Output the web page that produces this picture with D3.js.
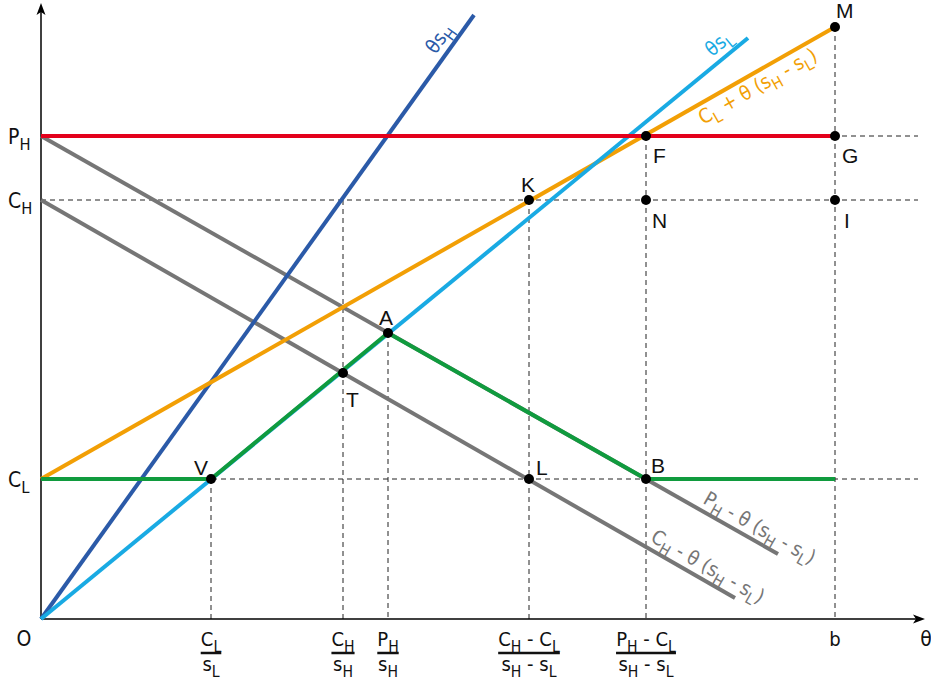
<!DOCTYPE html>
<html><head><meta charset="utf-8">
<script src="https://cdn.jsdelivr.net/npm/d3@7"></script>
<style>
html,body{margin:0;padding:0;background:#fff;}
svg{display:block;}
text{font-family:"Liberation Sans Narrow","DejaVu Sans Condensed","Liberation Sans",sans-serif;}
text.pt{font-family:"Liberation Sans",Arial,sans-serif;}
</style></head>
<body>
<script>
// ---------- data ----------
const yTickValues = [1.40, 4.19, 4.83];
const yTickLabels = ["C_L", "C_H", "P_H"];
const xTickValues = [1.70, 3.02, 3.47, 4.88, 6.05, 7.94];
const xTickNumerators = ["C_L", "C_H", "P_H", "C_H - C_L", "P_H - C_L", "b"];
const xTickDenominators = ["s_L", "s_H", "s_H", "s_H - s_L", "s_H - s_L", ""];
const dashTops = [1.40, 4.19, 2.86, 4.19, 4.83, 5.92];

const pointNames = ["V", "T", "A", "K", "L", "F", "N", "B", "M", "G", "I"];
const pointX = [1.70, 3.02, 3.47, 4.88, 4.88, 6.05, 6.05, 6.05, 7.94, 7.94, 7.94];
const pointY = [1.40, 2.46, 2.86, 4.19, 1.40, 4.83, 4.19, 1.40, 5.92, 4.83, 4.19];

const lineThetaSH = [[0, 0], [4.33, 6.04]];
const lineThetaSL = [[0, 0], [7.07, 5.81]];
const lineCost = [[0, 1.40], [7.94, 5.92]];
const linePH = [[0, 4.83], [7.94, 4.83]];
const lineGreyP = [[0, 4.83], [7.37, 0.65]];
const lineGreyC = [[0, 4.19], [6.94, 0.21]];
const lineGreen = [[0, 1.40], [1.70, 1.40], [3.47, 2.86], [6.05, 1.40], [7.94, 1.40]];

// ---------- layout ----------
const W = 931, H = 681;
const x = d3.scaleLinear().domain([0, 8.84]).range([41, 925]);
const y = d3.scaleLinear().domain([0, 6.16]).range([619, 3]);
const FS = 20;

const svg = d3.select("body").append("svg").attr("width", W).attr("height", H);

function rich(sel, str, size) {
  const parts = str.split(/(_.)/).filter(p => p.length);
  let shifted = false;
  parts.forEach(p => {
    if (p[0] === "_") {
      sel.append("tspan").attr("font-size", size * 0.78).attr("dy", shifted ? 0 : size * 0.28).text(p[1]);
      shifted = true;
    } else {
      sel.append("tspan").attr("font-size", size).attr("dy", shifted ? -size * 0.28 : 0).text(p);
      shifted = false;
    }
  });
  return sel;
}

const line = d3.line().x(d => x(d[0])).y(d => y(d[1]));

// dashed guides
const dash = svg.append("g").attr("stroke", "#222").attr("stroke-width", 1).attr("stroke-dasharray", "5,4").attr("fill", "none");
yTickValues.forEach(v => {
  dash.append("line").attr("x1", x(0)).attr("x2", x(8.77)).attr("y1", y(v)).attr("y2", y(v));
});
xTickValues.forEach((v, i) => {
  dash.append("line").attr("x1", x(v)).attr("x2", x(v)).attr("y1", y(dashTops[i])).attr("y2", y(0));
});

// axes
const ax = svg.append("g");
ax.append("line").attr("x1", x(0)).attr("x2", x(8.84) - 6).attr("y1", y(0)).attr("y2", y(0)).attr("stroke", "#000").attr("stroke-width", 1.5);
ax.append("line").attr("x1", x(0)).attr("x2", x(0)).attr("y1", y(0)).attr("y2", y(6.16) + 6).attr("stroke", "#000").attr("stroke-width", 1.5);
ax.append("path").attr("d", `M${x(8.84)},${y(0)} L${x(8.84) - 12},${y(0) - 4.5} L${x(8.84) - 9},${y(0)} L${x(8.84) - 12},${y(0) + 4.5} Z`).attr("fill", "#000");
ax.append("path").attr("d", `M${x(0)},${y(6.16)} L${x(0) - 4.5},${y(6.16) + 12} L${x(0)},${y(6.16) + 9} L${x(0) + 4.5},${y(6.16) + 12} Z`).attr("fill", "#000");

// coloured lines
const lines = [
  [lineGreyC, "#767676"],
  [lineGreyP, "#767676"],
  [lineThetaSH, "#2b5aa8"],
  [lineCost, "#f29f05"],
  [lineThetaSL, "#19aae3"],
  [linePH, "#e3001b"],
  [lineGreen, "#109b3e"]
];
lines.forEach(([d, c]) => {
  svg.append("path").attr("d", line(d)).attr("fill", "none").attr("stroke", c).attr("stroke-width", 4).attr("stroke-linejoin", "round");
});

// points
svg.append("g").selectAll("circle").data(pointNames).join("circle")
  .attr("cx", (d, i) => x(pointX[i])).attr("cy", (d, i) => y(pointY[i])).attr("r", 5).attr("fill", "#000");

const pointLabelOffsets = {
  V: [-3, -4, "end"], T: [3, 34, "start"], A: [-2, -8, "middle"], K: [-1, -8, "middle"],
  L: [7, -4, "start"], F: [7, 27, "start"], N: [6, 28, "start"], B: [5, -6, "start"],
  M: [1, -9, "start"], G: [7, 27, "start"], I: [9, 28, "start"]
};
svg.append("g").selectAll("text").data(pointNames).join("text")
  .attr("class", "pt")
  .attr("x", (d, i) => x(pointX[i]) + pointLabelOffsets[d][0])
  .attr("y", (d, i) => y(pointY[i]) + pointLabelOffsets[d][1])
  .attr("text-anchor", d => pointLabelOffsets[d][2])
  .attr("font-size", 21).attr("fill", "#111")
  .text(d => d);

// y tick labels
yTickValues.forEach((v, i) => {
  const t = svg.append("text").attr("x", 8).attr("y", y(v) + 8).attr("fill", "#111");
  rich(t, yTickLabels[i], 21);
});

// x tick labels (fractions)
xTickValues.forEach((v, i) => {
  const g = svg.append("g");
  const num = g.append("text").attr("x", x(v)).attr("y", 646).attr("text-anchor", "middle").attr("fill", "#111");
  rich(num, xTickNumerators[i], FS);
  if (xTickDenominators[i]) {
    const den = g.append("text").attr("x", x(v)).attr("y", 671).attr("text-anchor", "middle").attr("fill", "#111");
    rich(den, xTickDenominators[i], FS);
    const w = Math.max(num.node().getBBox().width, den.node().getBBox().width);
    g.append("line").attr("x1", x(v) - w / 2).attr("x2", x(v) + w / 2).attr("y1", 653).attr("y2", 653).attr("stroke", "#111").attr("stroke-width", 2.5);
  }
});
svg.append("text").attr("x", 24).attr("y", 646).attr("text-anchor", "middle").attr("font-size", 21).attr("fill", "#111").text("O");
svg.append("text").attr("x", 926).attr("y", 646).attr("text-anchor", "middle").attr("font-size", 21).attr("fill", "#111").text("θ");

// rotated line labels
function lineLabel(seg, tx, str, color, off) {
  const [[x0, y0], [x1, y1]] = seg;
  const ty = y0 + (y1 - y0) * (tx - x0) / (x1 - x0);
  const ang = Math.atan2(y(y1) - y(y0), x(x1) - x(x0)) * 180 / Math.PI;
  const t = svg.append("text")
    .attr("transform", `translate(${x(tx)},${y(ty)}) rotate(${ang}) translate(0,${off})`)
    .attr("text-anchor", "middle").attr("fill", color);
  rich(t, str, FS);
}
lineLabel(lineThetaSH, 4.10, "θs_H", "#2b5aa8", -8);
lineLabel(lineThetaSL, 6.87, "θs_L", "#19aae3", -8);
lineLabel(lineCost, 7.10, "C_L + θ (s_H - s_L)", "#f29f05", 20);
lineLabel(lineGreyP, 7.12, "P_H - θ (s_H - s_L)", "#767676", -7);
lineLabel(lineGreyC, 6.60, "C_H - θ (s_H - s_L)", "#767676", -7);
</script>
</body></html>
